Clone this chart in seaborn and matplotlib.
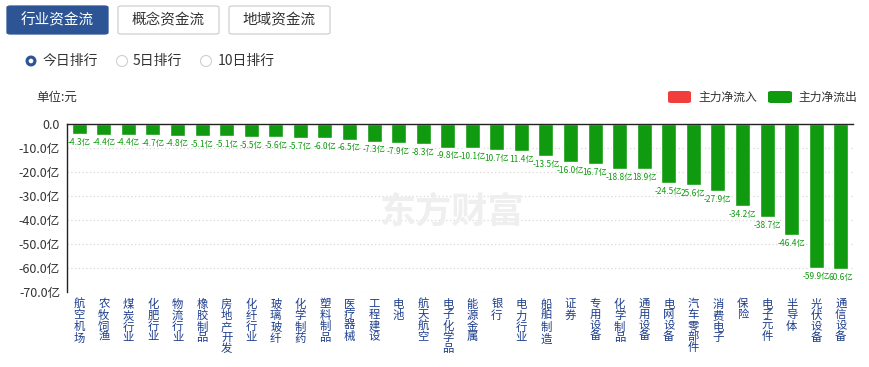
import matplotlib
matplotlib.use('Agg')
import matplotlib.pyplot as plt
import seaborn as sns
import pandas as pd
from matplotlib.patches import FancyBboxPatch, Ellipse

# Data (unit: 亿元, main net outflow)
sectors = ['航空机场', '农牧饲渔', '煤炭行业', '化肥行业', '物流行业', '橡胶制品',
           '房地产开发', '化纤行业', '玻璃玻纤', '化学制药', '塑料制品', '医疗器械',
           '工程建设', '电池', '航天航空', '电子化学品', '能源金属', '银行', '电力行业',
           '船舶制造', '证券', '专用设备', '化学制品', '通用设备', '电网设备',
           '汽车零部件', '消费电子', '保险', '电子元件', '半导体', '光伏设备', '通信设备']
net_flow = [-4.3, -4.4, -4.4, -4.7, -4.8, -5.1, -5.1, -5.5, -5.6, -5.7, -6.0, -6.5,
            -7.3, -7.9, -8.3, -9.8, -10.1, -10.7, -11.4, -13.5, -16.0, -16.7, -18.8,
            -18.9, -24.5, -25.6, -27.9, -34.2, -38.7, -46.4, -59.9, -60.6]
# labels whose minus sign is clipped in the original
clipped_minus = ['银行', '电力行业', '专用设备', '通用设备', '汽车零部件', '通信设备']
y_ticks = [0, -10, -20, -30, -40, -50, -60, -70]

GREEN = '#0f9a0f'
RED = '#f23d3d'
BLUE = '#2d5595'
NAVY = '#1d3d8c'

sns.set_style('white')
plt.rcParams['font.family'] = ['Noto Sans CJK SC', 'DejaVu Sans']

df = pd.DataFrame({'sector': sectors, 'flow': net_flow})

fig = plt.figure(figsize=(8.7, 3.67), dpi=100)
W, H = 870, 367

def fx(px):
    return px / W

def fy(py):
    return 1 - py / H

ax = fig.add_axes([fx(67), fy(292), fx(853) - fx(67), fy(124) - fy(292)])
sns.barplot(data=df, x='sector', y='flow', color=GREEN, saturation=1,
            width=0.61, ax=ax)
ax.set_xlim(-0.5, len(sectors) - 0.5)
ax.set_ylim(-70, 0)
ax.set_xlabel('')
ax.set_ylabel('')

# grid / spines
for t in y_ticks[1:]:
    ax.axhline(t, color='#d9d9d9', linestyle=(0, (1, 2)), linewidth=0.9, zorder=0)
for s in ['right', 'bottom']:
    ax.spines[s].set_visible(False)
ax.spines['top'].set_color('#222222')
ax.spines['top'].set_linewidth(1.0)
ax.spines['left'].set_color('#222222')
ax.spines['left'].set_linewidth(1.0)

ax.set_yticks(y_ticks)
ax.set_yticklabels(['0.0' if t == 0 else f'{t:.1f}亿' for t in y_ticks],
                   fontsize=9, color='#333333')
ax.tick_params(axis='y', length=0, pad=5)
ax.set_xticks(range(len(sectors)))
ax.set_xticklabels(['\n'.join(s) for s in sectors], fontsize=8.2, color=NAVY,
                   linespacing=1.05, va='top', rotation=0)
ax.tick_params(axis='x', length=0, pad=5)

# value labels under the bars
for i, (s, v) in enumerate(zip(sectors, net_flow)):
    txt = f'{v:.1f}亿'
    if s in clipped_minus:
        txt = txt.lstrip('-')
    ax.annotate(txt, (i, v), xytext=(0, -6), textcoords='offset points',
                ha='center', va='center', fontsize=6, color=GREEN)

# watermark
fig.text(fx(452), fy(212), '东方财富', fontsize=26, fontweight='bold',
         color='#efefef', ha='center', va='center', zorder=0)

# tab buttons
tabs = [('行业资金流', 7, 108, True), ('概念资金流', 118, 219, False),
        ('地域资金流', 229, 330, False)]
for label, x0, x1, active in tabs:
    box = FancyBboxPatch((fx(x0), fy(34)), fx(x1) - fx(x0), fy(6) - fy(34),
                         boxstyle='round,pad=0,rounding_size=0.004',
                         transform=fig.transFigure,
                         facecolor=BLUE if active else 'white',
                         edgecolor=BLUE if active else '#cfcfcf', linewidth=0.9)
    fig.patches.append(box)
    fig.text(fx((x0 + x1) / 2), fy(20), label, fontsize=10.5,
             color='white' if active else '#333333', ha='center', va='center')

# radio buttons
def circle(cx, cy, r, **kw):
    fig.patches.append(Ellipse((fx(cx), fy(cy)), 2 * r / W, 2 * r / H,
                               transform=fig.transFigure, **kw))

radios = [('今日排行', 31, 43, True), ('5日排行', 122, 133, False),
          ('10日排行', 206, 218, False)]
for label, cx, tx, active in radios:
    if active:
        circle(cx, 61, 5.5, facecolor=BLUE, edgecolor='none')
        circle(cx, 61, 2.3, facecolor='white', edgecolor='none')
    else:
        circle(cx, 61, 5.5, facecolor='white', edgecolor='#d0d0d0', linewidth=0.8)
    fig.text(fx(tx), fy(61), label, fontsize=10, color='#333333', ha='left', va='center')

fig.text(fx(36), fy(97), '单位:元', fontsize=9, color='#333333', ha='left', va='center')

# legend
for lab, col, x0, x1, tx in [('主力净流入', RED, 668, 691, 698),
                             ('主力净流出', GREEN, 768, 792, 798)]:
    box = FancyBboxPatch((fx(x0), fy(103)), fx(x1) - fx(x0), fy(91) - fy(103),
                         boxstyle='round,pad=0,rounding_size=0.004',
                         transform=fig.transFigure, facecolor=col, edgecolor='none')
    fig.patches.append(box)
    fig.text(fx(tx), fy(97), lab, fontsize=8.5, color='#333333', ha='left', va='center')

fig.savefig('out.png', dpi=100)
plt.close(fig)
